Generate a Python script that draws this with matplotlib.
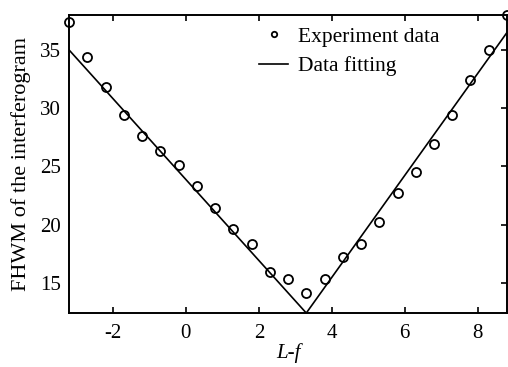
import numpy as np
import matplotlib.pyplot as plt

plt.rcParams['font.family'] = ['Liberation Serif', 'DejaVu Serif']
plt.rcParams['axes.unicode_minus'] = False

# measured points
pos = [-3.2, -2.7, -2.2, -1.7, -1.2, -0.7, -0.2, 0.3, 0.8, 1.3, 1.8, 2.3,
       2.8, 3.3, 3.8, 4.3, 4.8, 5.3, 5.8, 6.3, 6.8, 7.3, 7.8, 8.3, 8.8]
fwhm = [37.4, 34.4, 31.8, 29.4, 27.6, 26.3, 25.1, 23.3, 21.4, 19.6, 18.3, 15.9,
        15.3, 14.1, 15.3, 17.2, 18.3, 20.2, 22.7, 24.5, 26.9, 29.4, 32.4, 35.0, 38.0]

# fitted V line
fit_x = [-3.2, 3.3, 8.8]
fit_y = [35.0, 12.4, 36.5]


def plot_fwhm():
    fig = plt.figure(figsize=(5.08, 3.67), dpi=100)
    ax = fig.add_axes([0.136, 0.147, 0.862, 0.812])

    ax.plot(pos, fwhm, 'o', mfc='none', mec='black', ms=6.5, mew=1.3,
            label='Experiment data', clip_on=False, zorder=3)
    ax.plot(fit_x, fit_y, '-', color='black', lw=1.2, label='Data fitting')

    ax.set_xlim(-3.2, 8.8)
    ax.set_ylim(12.4, 38)
    ax.set_xticks([-2, 0, 2, 4, 6, 8])
    ax.set_yticks([15, 20, 25, 30, 35])
    ax.tick_params(direction='in', top=True, right=True, labelsize=15,
                   length=4, width=1.2)
    ax.tick_params(axis='x', pad=8)
    ax.tick_params(axis='y', which='both', left=False, pad=6)
    for s in ax.spines.values():
        s.set_linewidth(1.4)

    ax.set_xlabel('L-f', fontsize=15, style='italic', labelpad=0)
    ax.set_ylabel('FHWM of the interferogram', fontsize=16, labelpad=6)

    ax.legend(loc='upper left', bbox_to_anchor=(0.405, 1.005), frameon=False,
              fontsize=15.5, handlelength=1.35, handletextpad=0.45,
              labelspacing=0.45, borderaxespad=0.2, markerscale=0.6)

    fig.savefig('out.png', dpi=100)


if __name__ == "__main__":
    plot_fwhm()
